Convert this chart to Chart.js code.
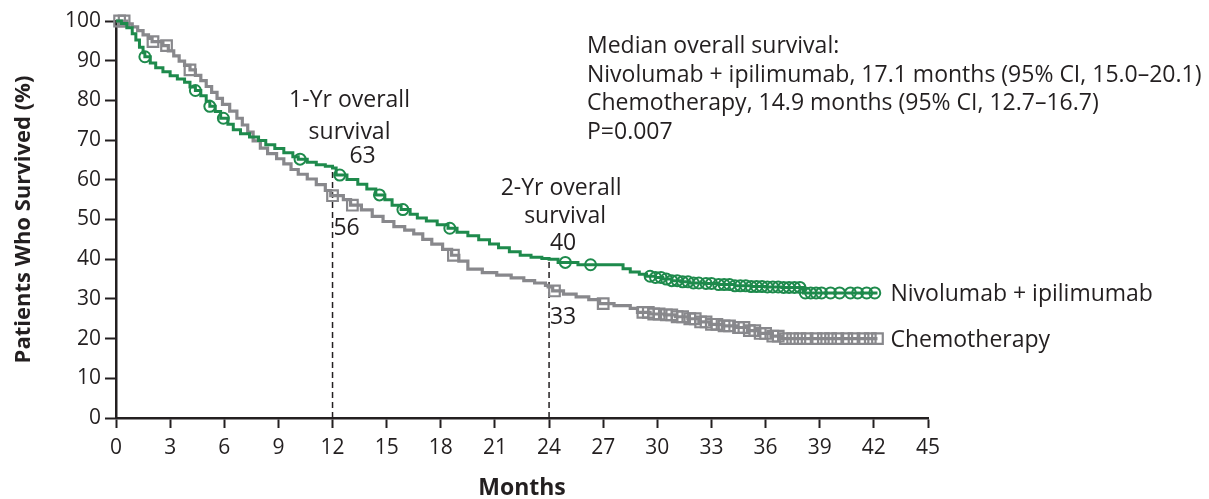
<!DOCTYPE html>
<html>
<head>
<meta charset="utf-8">
<script src="https://cdn.jsdelivr.net/npm/chart.js@4/dist/chart.umd.min.js"></script>
<style>
  html, body { margin: 0; padding: 0; background: #ffffff; }
  #wrap { width: 1209px; height: 499px; position: relative; }
</style>
</head>
<body>
<div id="wrap"><canvas id="km" width="1209" height="499"></canvas></div>
<script>
// Kaplan-Meier estimates: month of each step and survival (%) after it
const nivoMonths = [0,0.3,0.6,0.9,1.1,1.3,1.5,1.6,1.9,2.2,2.6,3.0,3.4,3.8,4.1,4.4,4.7,5.0,5.2,5.5,5.8,6.2,6.5,6.9,7.4,7.9,8.3,8.8,9.3,9.8,10.1,10.6,11.1,11.6,12.0,12.2,12.8,13.4,13.9,14.4,14.9,15.3,15.8,16.3,16.7,17.2,17.8,18.4,18.9,19.5,20.1,20.7,21.2,21.8,22.4,23.0,23.6,24.0,24.5,25.6,28.1,28.5,29.0,29.4,29.9,30.3,30.8,31.3,31.8,32.6,33.4,34.3,35.2,36.0,36.9,38.1,42.2];
const nivoSurv   = [100,99.4,98.3,96.8,95.2,93.4,92,91,89.4,88.2,87.2,86.2,85.4,84.6,83.4,82.5,81.2,79.8,78.5,77.2,75.5,74,72.6,71.6,70.8,69.9,68.8,67.9,66.8,65.8,65.2,64.4,63.8,63.4,63,61.2,60.1,58.9,57.7,56.2,55,53.6,52.5,51.3,50.4,49.6,48.7,47.8,46.8,45.9,44.9,43.8,42.9,41.9,41,40.5,40.2,40,39.2,38.6,37.6,36.8,36.2,35.7,35.4,35,34.6,34.3,34,33.9,33.6,33.3,33.1,33,32.9,31.5,31.5];

const chemoMonths = [0,0.6,0.9,1.2,1.5,1.8,2.0,2.6,2.9,3.2,3.5,3.8,4.1,4.4,4.7,5.0,5.3,5.6,5.9,6.3,6.7,7.0,7.3,7.6,8.0,8.4,8.9,9.3,9.7,10.1,10.6,11.1,11.6,11.9,12.6,13.0,13.6,14.2,14.8,15.4,16.0,16.5,17.0,17.5,18.1,18.6,19.0,19.5,20.3,21.1,21.9,22.6,23.2,23.8,23.95,24.2,24.8,25.5,26.2,26.8,27.6,28.5,28.9,29.6,30.4,31.0,31.7,32.3,32.9,33.6,34.4,35.0,35.6,36.3,36.9,42.2];
const chemoSurv   = [100,99.3,98.5,97.6,96.5,95.6,94.8,93.8,92.5,91.2,89.9,88.8,87.7,86.3,85,83.5,82,80.5,79,77.3,75.5,73.8,72,69.8,68,66.6,65.3,64,62.6,61.4,60.2,58.8,57.3,56,55,53.6,52.4,50.8,49.5,48.2,47.3,46.4,45,43.8,42.5,41,39.5,37.5,36.6,36,35.3,34.6,34,33.4,33,32,31.2,30.5,29.8,28.8,28.3,27.6,26.6,26.2,26,25.5,25,24.2,23.6,23.2,22.8,22,21.3,20.6,20,20];

// Censored observations
const nivoCensorMonths = [1.6,4.4,5.2,5.95,10.2,12.4,14.6,15.9,18.5,24.9,26.3,29.6,29.9,30.2,30.5,30.8,31.1,31.4,31.7,32.0,32.3,32.7,33.0,33.4,33.7,34.0,34.3,34.6,34.9,35.2,35.5,35.8,36.1,36.4,36.7,37.0,37.3,37.6,37.9,38.2,38.5,38.8,39.1,39.6,40.1,40.7,41.1,41.6,42.05];
const nivoCensorSurv   = [91,82.5,78.5,75.5,65.2,61.2,56.2,52.5,47.8,39.2,38.6,35.7,35.4,35.4,35,34.6,34.6,34.3,34.3,34,34,33.9,33.9,33.6,33.6,33.6,33.3,33.3,33.3,33.1,33.1,33.1,33,33,33,32.9,32.9,32.9,32.9,31.5,31.5,31.5,31.5,31.5,31.5,31.5,31.5,31.5,31.5];

const chemoCensorMonths = [0.2,0.45,2.05,2.8,4.1,12.0,13.1,18.7,24.3,27.0,29.2,29.5,29.8,30.1,30.5,30.8,31.1,31.4,31.8,32.1,32.4,32.7,33.0,33.3,33.7,34.0,34.5,34.8,35.1,35.4,35.7,36.0,36.4,36.7,37.1,37.5,37.9,38.3,38.8,39.2,39.6,40.0,40.5,40.9,41.4,41.8,42.2];
const chemoCensorSurv   = [100,100,94.8,93.8,87.7,56,53.6,41,32,28.8,26.6,26.6,26.2,26.2,26,26,25.5,25.5,25,25,24.2,24.2,23.6,23.6,23.2,23.2,22.8,22.8,22,22,21.3,21.3,20.6,20.6,20,20,20,20,20,20,20,20,20,20,20,20,20];

// Landmark survival rates
const landmarkMonths = [12, 24];
const landmarkNivo   = [63, 40];
const landmarkChemo  = [56, 33];
const landmarkTitles = ['1-Yr overall', '2-Yr overall'];

const xTickValues = [0,3,6,9,12,15,18,21,24,27,30,33,36,39,42,45];
const yTickValues = [0,10,20,30,40,50,60,70,80,90,100];

const seriesNames = ['Nivolumab + ipilimumab', 'Chemotherapy'];
const medianLines = [
  'Median overall survival:',
  'Nivolumab + ipilimumab, 17.1 months (95% CI, 15.0\u201320.1)',
  'Chemotherapy, 14.9 months (95% CI, 12.7\u201316.7)',
  'P=0.007'
];

const GREEN = '#1e8a4c';
const GREY = '#88888c';
const INK = '#231f20';
const FONT = '"Open Sans", "Noto Sans", sans-serif';

const pts = (xs, ys) => xs.map((x, i) => ({ x, y: ys[i] }));

const landmarkSets = landmarkMonths.map((m, i) => ({
  data: [{ x: m, y: 0 }, { x: m, y: landmarkNivo[i] }],
  borderColor: INK,
  borderWidth: 1.5,
  borderDash: [6, 4],
  pointRadius: 0,
  order: 5
}));

// Offsets (px) of the landmark texts: [dx title, dx "survival", dx upper value, dx lower value],
// vertical positions relative to the upper value's pixel
const landmarkLayout = [
  { dx: [17, 17, 30, 14], dy: [-67, -35, -11], dyLow: 33 },
  { dx: [12, 16, 14, 14], dy: [-71, -43, -16], dyLow: 30 }
];

const labelPlugin = {
  id: 'kmLabels',
  afterDatasetsDraw(chart) {
    const { ctx, scales: { x, y } } = chart;
    ctx.save();
    ctx.fillStyle = INK;
    ctx.font = '23px ' + FONT;

    // median survival block
    ctx.textAlign = 'left';
    ctx.textBaseline = 'alphabetic';
    medianLines.forEach((t, i) => ctx.fillText(t, 587, 53 + i * 28.5));

    // landmark annotations
    ctx.textAlign = 'center';
    ctx.textBaseline = 'middle';
    landmarkMonths.forEach((m, i) => {
      const px = x.getPixelForValue(m);
      const top = y.getPixelForValue(landmarkNivo[i]);
      const low = y.getPixelForValue(landmarkChemo[i]);
      const o = landmarkLayout[i];
      ctx.fillText(landmarkTitles[i], px + o.dx[0], top + o.dy[0]);
      ctx.fillText('survival', px + o.dx[1], top + o.dy[1]);
      ctx.fillText(String(landmarkNivo[i]), px + o.dx[2], top + o.dy[2]);
      ctx.fillText(String(landmarkChemo[i]), px + o.dx[3], low + o.dyLow);
    });

    // series names at the ends of the curves
    ctx.textAlign = 'left';
    const ends = [
      [nivoMonths[nivoMonths.length - 1], nivoSurv[nivoSurv.length - 1]],
      [chemoMonths[chemoMonths.length - 1], chemoSurv[chemoSurv.length - 1]]
    ];
    ends.forEach((e, i) => {
      ctx.fillText(seriesNames[i], x.getPixelForValue(e[0]) + 13, y.getPixelForValue(e[1]) + 2);
    });
    ctx.restore();
  }
};

new Chart(document.getElementById('km'), {
  type: 'line',
  data: {
    datasets: [
      {
        label: seriesNames[0] + ' censored',
        data: pts(nivoCensorMonths, nivoCensorSurv),
        showLine: false,
        pointStyle: 'circle',
        pointRadius: 5.5,
        pointBorderWidth: 2,
        pointBorderColor: GREEN,
        pointBackgroundColor: 'rgba(0,0,0,0)',
        clip: false,
        order: 1
      },
      {
        label: seriesNames[0],
        data: pts(nivoMonths, nivoSurv),
        stepped: 'before',
        borderColor: GREEN,
        borderWidth: 3,
        pointRadius: 0,
        clip: false,
        order: 2
      },
      {
        label: seriesNames[1] + ' censored',
        data: pts(chemoCensorMonths, chemoCensorSurv),
        showLine: false,
        pointStyle: 'rect',
        pointRadius: 7.5,
        pointBorderWidth: 2.2,
        pointBorderColor: GREY,
        pointBackgroundColor: 'rgba(0,0,0,0)',
        clip: false,
        order: 3
      },
      {
        label: seriesNames[1],
        data: pts(chemoMonths, chemoSurv),
        stepped: 'before',
        borderColor: GREY,
        borderWidth: 3.2,
        pointRadius: 0,
        clip: false,
        order: 4
      },
      ...landmarkSets
    ]
  },
  options: {
    responsive: false,
    animation: false,
    events: [],
    layout: { padding: { top: 21, right: 281, left: 0, bottom: 0 } },
    plugins: { legend: { display: false }, tooltip: { enabled: false } },
    scales: {
      x: {
        type: 'linear',
        min: 0,
        max: 45,
        afterFit: (s) => { s.height = 81; },
        afterBuildTicks: (s) => { s.ticks = xTickValues.map(v => ({ value: v })); },
        grid: { drawOnChartArea: false, drawTicks: true, tickLength: 10, tickWidth: 2, color: INK },
        border: { display: true, color: INK, width: 2.5 },
        ticks: { color: INK, font: { family: FONT, size: 21 }, padding: 7, maxRotation: 0, autoSkip: false },
        title: { display: true, text: 'Months', color: INK, font: { family: FONT, size: 23, weight: 'bold' }, padding: { top: 0, bottom: -3 } }
      },
      y: {
        type: 'linear',
        min: 0,
        max: 100,
        afterFit: (s) => { s.width = 116; },
        afterBuildTicks: (s) => { s.ticks = yTickValues.map(v => ({ value: v })); },
        grid: { drawOnChartArea: false, drawTicks: true, tickLength: 11, tickWidth: 2, color: INK },
        border: { display: true, color: INK, width: 2.5 },
        ticks: { color: INK, font: { family: FONT, size: 21 }, padding: 4, autoSkip: false },
        title: { display: true, text: 'Patients Who Survived (%)', color: INK, font: { family: FONT, size: 22, weight: 'bold' }, padding: { top: 11, bottom: 0 } }
      }
    }
  },
  plugins: [labelPlugin]
});
</script>
</body>
</html>
